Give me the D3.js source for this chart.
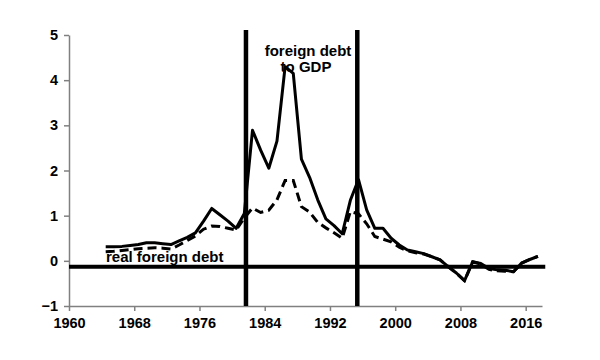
<!DOCTYPE html>
<html><head><meta charset="utf-8">
<script src="https://cdn.jsdelivr.net/npm/d3@7"></script>
<style>body{margin:0;background:#fff}svg{display:block}</style>
</head><body>
<svg id="c" width="600" height="360"></svg>
<script>
const years = d3.range(1964, 2018);
const debtToGDP = [0.31,0.31,0.32,0.34,0.36,0.40,0.40,0.38,0.36,0.44,0.52,0.62,0.88,1.16,1.02,0.88,0.72,1.05,2.89,2.45,2.05,2.65,4.30,4.15,2.25,1.85,1.35,0.93,0.78,0.60,1.34,1.80,1.13,0.72,0.72,0.50,0.35,0.24,0.20,0.16,0.09,0.02,-0.13,-0.27,-0.44,-0.02,-0.06,-0.17,-0.20,-0.21,-0.24,-0.05,0.03,0.10];
const realDebt = [0.20,0.21,0.23,0.25,0.27,0.28,0.29,0.28,0.26,0.35,0.45,0.55,0.70,0.77,0.76,0.72,0.68,0.95,1.17,1.07,1.12,1.35,1.78,1.78,1.20,1.08,0.85,0.73,0.62,0.50,1.09,1.04,0.82,0.54,0.48,0.42,0.30,0.22,0.18,0.15,0.09,0.02,-0.13,-0.27,-0.44,-0.02,-0.07,-0.19,-0.22,-0.23,-0.24,-0.05,0.03,0.10];
const crisisYears = [1981.7, 1995.35];
const baselineValue = -0.13;
const xTicks = [1960,1968,1976,1984,1992,2000,2008,2016];
const yTicks = [-1,0,1,2,3,4,5];

const svg = d3.select('#c');
const x = d3.scaleLinear().domain([1960, 2018]).range([69, 542]);
const y = d3.scaleLinear().domain([-1, 5]).range([306, 35]);
const font = 'Liberation Sans, Arial, sans-serif';

// axes
const yAxis = svg.append('g').attr('transform','translate(69,0)')
  .call(d3.axisLeft(y).tickValues(yTicks).tickSize(5).tickSizeOuter(0).tickFormat(d3.format('d')));
const xAxis = svg.append('g').attr('transform','translate(0,306)')
  .call(d3.axisBottom(x).tickValues(xTicks).tickSize(5).tickSizeOuter(0).tickFormat(d3.format('d')));
[yAxis, xAxis].forEach(g => {
  g.selectAll('path,line').attr('stroke','#808080').attr('stroke-width',1.5);
  g.selectAll('text').attr('fill','#000').attr('font-family',font)
   .attr('font-weight','bold').attr('font-size','14.5px');
});
yAxis.selectAll('text').attr('x',-11);
xAxis.selectAll('text').attr('y',12);

// baseline
svg.append('line').attr('x1',x(1960)).attr('x2',x(2018.4))
  .attr('y1',y(baselineValue)).attr('y2',y(baselineValue))
  .attr('stroke','#000').attr('stroke-width',4);

// crisis lines
svg.selectAll('.crisis').data(crisisYears).join('line')
  .attr('x1',d=>x(d)).attr('x2',d=>x(d)).attr('y1',y(5.11)).attr('y2',y(-1))
  .attr('stroke','#000').attr('stroke-width',4.5);

const line = d3.line().x((d,i)=>x(years[i]+0.5)).y(d=>y(d));
svg.append('path').datum(realDebt).attr('d',line).attr('fill','none')
  .attr('stroke','#000').attr('stroke-width',3).attr('stroke-dasharray','9,5');
svg.append('path').datum(debtToGDP).attr('d',line).attr('fill','none')
  .attr('stroke','#000').attr('stroke-width',3).attr('stroke-linejoin','round');

// annotations
const ann = svg.append('g').attr('font-family',font).attr('font-weight','bold').attr('font-size','15px').attr('fill','#000');
ann.append('text').attr('x',308).attr('y',56).attr('text-anchor','middle').text('foreign debt');
ann.append('text').attr('x',306).attr('y',72).attr('text-anchor','middle').text('to GDP');
ann.append('text').attr('x',106).attr('y',262).text('real foreign debt');
</script>
</body></html>
